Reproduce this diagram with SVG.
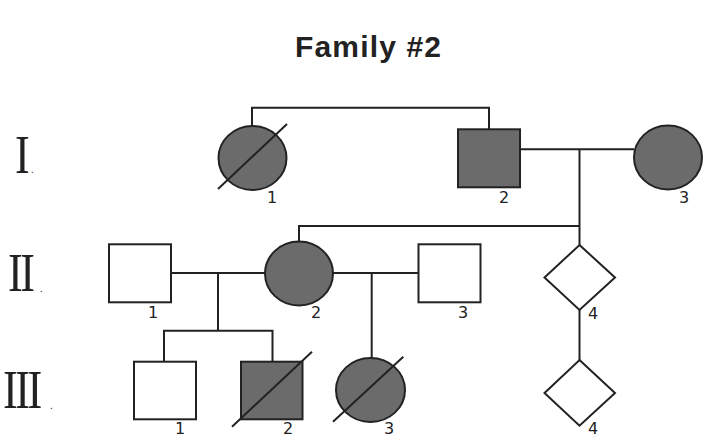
<svg xmlns="http://www.w3.org/2000/svg" width="718" height="438" viewBox="0 0 718 438">
<style>
.ln{stroke:#222;stroke-width:2;fill:none}
.sh{stroke:#222;stroke-width:2}
.aff{fill:#6b6b6b}
.un{fill:#fff}
.num{font-family:"DejaVu Sans","Open Sans",sans-serif;font-size:16px;fill:#222}
.gen{font-family:"Liberation Serif","DejaVu Serif",serif;font-size:54px;fill:#222}
.dot{font-family:"Liberation Sans",sans-serif;font-size:10px;fill:#222}
.title{font-family:"Liberation Sans","Open Sans",sans-serif;font-size:30px;font-weight:bold;fill:#222}
</style>
<rect width="718" height="438" fill="#fff"/>
<text class="title" x="368" y="57" text-anchor="middle" textLength="146">Family #2</text>
<g id="gen-labels">
<text class="gen" transform="translate(15,172.5) scale(0.82,1)">I</text>
<text class="dot" x="31" y="173">.</text>
<text class="gen" transform="translate(8,291) scale(0.82,1)" letter-spacing="-3">II</text>
<text class="dot" x="40" y="291.5">.</text>
<text class="gen" transform="translate(3,408) scale(0.82,1)" letter-spacing="-3">III</text>
<text class="dot" x="50" y="409">.</text>
</g>
<g id="connectors">
<polyline class="ln" points="252,126 252,107.7 489,107.7 489,129"/>
<line class="ln" x1="520" y1="149.3" x2="634" y2="149.3"/>
<line class="ln" x1="579.5" y1="149.3" x2="579.5" y2="245"/>
<polyline class="ln" points="299,242 299,226 579.5,226"/>
<line class="ln" x1="171" y1="273" x2="265" y2="273"/>
<line class="ln" x1="333" y1="273" x2="418" y2="273"/>
<line class="ln" x1="218" y1="273" x2="218" y2="330.7"/>
<polyline class="ln" points="164,362 164,330.7 272.5,330.7 272.5,362"/>
<line class="ln" x1="371.7" y1="273" x2="371.7" y2="358.5"/>
<line class="ln" x1="579.5" y1="310" x2="579.5" y2="360"/>
</g>
<g id="I-1">
<ellipse class="sh aff" cx="252.5" cy="158" rx="34" ry="32"/>
<line class="ln" x1="218" y1="189" x2="287" y2="124"/>
<text class="num" x="272" y="203" text-anchor="middle">1</text>
</g>
<g id="I-2">
<rect class="sh aff" x="458" y="129.3" width="62" height="58"/>
<text class="num" x="504" y="203" text-anchor="middle">2</text>
</g>
<g id="I-3">
<ellipse class="sh aff" cx="668" cy="157.5" rx="34" ry="32"/>
<text class="num" x="684" y="203" text-anchor="middle">3</text>
</g>
<g id="II-1">
<rect class="sh un" x="109" y="244.3" width="62" height="58"/>
<text class="num" x="153" y="318" text-anchor="middle">1</text>
</g>
<g id="II-2">
<ellipse class="sh aff" cx="299" cy="273.5" rx="34" ry="32"/>
<text class="num" x="316" y="318" text-anchor="middle">2</text>
</g>
<g id="II-3">
<rect class="sh un" x="418.5" y="244.3" width="62" height="58"/>
<text class="num" x="463" y="318" text-anchor="middle">3</text>
</g>
<g id="II-4">
<polygon class="sh un" points="579.5,245 615,277.5 579.5,310 544.5,277.5"/>
<text class="num" x="593" y="319" text-anchor="middle">4</text>
</g>
<g id="III-1">
<rect class="sh un" x="134" y="361.7" width="62" height="57.6"/>
<text class="num" x="180" y="434" text-anchor="middle">1</text>
</g>
<g id="III-2">
<rect class="sh aff" x="241" y="361.7" width="61.5" height="57.6"/>
<line class="ln" x1="232" y1="426.7" x2="312" y2="351.7"/>
<text class="num" x="288" y="434" text-anchor="middle">2</text>
</g>
<g id="III-3">
<ellipse class="sh aff" cx="370.5" cy="390" rx="34.5" ry="32"/>
<line class="ln" x1="333" y1="421.7" x2="403.3" y2="356.7"/>
<text class="num" x="389" y="434" text-anchor="middle">3</text>
</g>
<g id="III-4">
<polygon class="sh un" points="579.5,360 615,393 579.5,425.7 544.5,393"/>
<text class="num" x="593" y="434" text-anchor="middle">4</text>
</g>
</svg>
